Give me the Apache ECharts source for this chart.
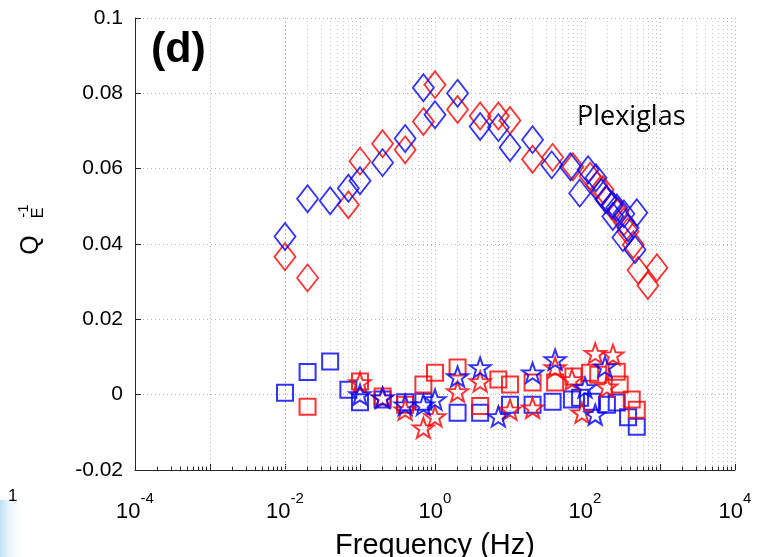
<!DOCTYPE html>
<html>
<head>
<meta charset="utf-8">
<script src="https://cdn.jsdelivr.net/npm/echarts@6/dist/echarts.min.js"></script>
<style>html,body{margin:0;padding:0;background:#fff;}#c{width:759px;height:557px;}</style>
</head>
<body>
<div id="c"></div>
<script>
// ---- data (frequency in Hz, attenuation Q_E^-1) ----
const redDiamondF = [0.01,0.02,0.07,0.1,0.2,0.4,0.7,1,2,4,7,10,20,37,69,117,144,174,196,230,275,330,375,440,510,690,910];
const redDiamondQ = [0.0366,0.031,0.0504,0.062,0.0666,0.065,0.0725,0.0823,0.0757,0.074,0.074,0.0728,0.0625,0.063,0.0605,0.058,0.0557,0.0544,0.0518,0.050,0.0486,0.0459,0.0433,0.0398,0.033,0.029,0.0337];

const blueDiamondF = [0.01,0.02,0.04,0.07,0.1,0.2,0.4,0.7,1,2,4,7,10,20,36,64,110,85,140,164,190,230,235,265,330,490,375,320,465];
const blueDiamondQ = [0.042,0.052,0.0515,0.0548,0.0568,0.0616,0.068,0.0815,0.0743,0.080,0.0712,0.0709,0.0656,0.0677,0.061,0.0605,0.0597,0.0535,0.0576,0.0536,0.0518,0.0504,0.0473,0.0496,0.048,0.0483,0.0443,0.0417,0.0385];

const blueSquareF = [0.01,0.02,0.04,0.07,0.1,0.2,0.4,0.7,2,4,10,20,37,67,86,124,196,265,375,490];
const blueSquareQ = [0.0005,0.006,0.0088,0.0013,-0.002,-0.0013,-0.002,-0.0019,-0.0048,-0.0048,-0.0027,-0.0027,-0.0019,-0.0013,-0.0008,-0.0019,-0.0027,-0.0021,-0.006,-0.0085];

const redSquareF = [0.02,0.1,0.2,0.4,0.7,1,2,4,7,10,20,40,70,117,150,265,290,420,490];
const redSquareQ = [-0.0032,0.0035,-0.0005,-0.0027,0.0027,0.0058,0.0072,-0.003,0.004,0.0027,0.0032,0.0032,0.0048,0.0058,0.0053,0.0061,0.0027,-0.0013,-0.004];

const blueStarF = [0.1,0.2,0.4,0.7,1,2,4,7,20,40,100,137,185];
const blueStarQ = [0,-0.0008,-0.0027,-0.0027,-0.0013,0.0048,0.0072,-0.0058,0.0058,0.0093,0.0019,-0.0053,0.0074];

const redStarF = [0.1,0.2,0.4,0.7,1,2,4,10,20,40,67,91,137,236,196];
const redStarQ = [0.0032,-0.0008,-0.004,-0.0088,-0.0058,0.0008,0.0035,-0.004,-0.0035,0.0072,0.004,-0.0048,0.011,0.0106,0.0021];

const xMin = 1e-4, xMax = 1e4;
const yMin = -0.02, yMax = 0.1, yStep = 0.02;

// ---- helpers ----
const zip = (f, q) => f.map((v, i) => [v, q[i]]);
const RED = '#ff0000', BLUE = '#0000ff';
const STAR = 'path://M0,-10 L2.35,-3.24 L9.51,-3.09 L3.8,1.24 L5.88,8.09 L0,4.2 L-5.88,8.09 L-3.8,1.24 L-9.51,-3.09 L-2.35,-3.24 Z';

function hollow(name, data, color, symbol, size, w) {
  return {
    name, type: 'scatter', data, symbol, symbolSize: size, symbolKeepAspect: symbol === STAR,
    z: 5,
    itemStyle: { color: 'rgba(0,0,0,0)', borderColor: color, borderWidth: w },
    emphasis: { disabled: true }
  };
}

// minor log positions (2..9 x 10^k)
const minorVals = [];
for (let e = -4; e < 4; e++) for (let k = 2; k <= 9; k++) minorVals.push(k * Math.pow(10, e));

const chart = echarts.init(document.getElementById('c'), null, { renderer: 'canvas' });
const FONT = 'Liberation Sans';

chart.setOption({
  animation: false,
  backgroundColor: '#fff',
  grid: { left: 135, right: 24, top: 18, bottom: 87, containLabel: false, outerBoundsMode: 'none' },
  xAxis: {
    type: 'log', logBase: 10, min: xMin, max: xMax, interval: 1,
    name: 'Frequency (Hz)', nameLocation: 'middle', nameGap: 61,
    nameTextStyle: { fontFamily: FONT, fontSize: 29, color: '#000', verticalAlign: 'top' },
    axisLine: { onZero: false, lineStyle: { color: '#262626', width: 1 } },
    axisTick: { inside: true, length: 6, lineStyle: { color: '#262626' } },
    splitLine: { show: true, lineStyle: { type: [1, 3], color: '#b5b5b5' } },
    axisLabel: {
      margin: 21,
      formatter: function (v) {
        const e = Math.round(Math.log10(v));
        if (e % 2 !== 0) return '';
        return '{b|10}{e|' + e + '}';
      },
      rich: {
        b: { fontFamily: FONT, fontSize: 22, color: '#000', lineHeight: 32, verticalAlign: 'bottom' },
        e: { fontFamily: FONT, fontSize: 15, color: '#000', lineHeight: 15, verticalAlign: 'top' }
      }
    }
  },
  yAxis: {
    type: 'value', min: yMin, max: yMax, interval: yStep,
    axisLine: { show: true, onZero: false, lineStyle: { color: '#262626', width: 1 } },
    axisTick: { show: true, inside: true, length: 6, lineStyle: { color: '#262626' } },
    splitLine: { show: true, lineStyle: { type: [1, 3], color: '#b5b5b5' } },
    axisLabel: {
      margin: 12, fontFamily: FONT, fontSize: 21, color: '#000',
      formatter: v => String(parseFloat(v.toFixed(2)))
    }
  },
  graphic: [
    { type: 'rect', left: 0, top: 500, z: -1, shape: { width: 24, height: 57 },
      style: { fill: new echarts.graphic.LinearGradient(0, 0, 1, 0, [
        { offset: 0, color: '#bfe0f4' }, { offset: 1, color: 'rgba(255,255,255,0)' }]) } },
    { type: 'text', left: 8, top: 488, style: { text: '1', font: '17px "Liberation Sans"', fill: '#000' } },
    { type: 'text', x: 151, y: 29, style: { text: '(d)', font: 'bold 43px "Liberation Sans"', fill: '#000' } },
    { type: 'text', x: 577, y: 104, style: { text: 'Plexiglas', font: '27px "Open Sans"', fill: '#000' } },
    { type: 'text', x: 31, y: 245, rotation: Math.PI / 2,
      style: { text: 'Q', font: '25px "Liberation Sans"', fill: '#000', align: 'center', verticalAlign: 'middle' } },
    { type: 'text', x: 24, y: 211, rotation: Math.PI / 2,
      style: { text: '-1', font: '15px "Liberation Sans"', fill: '#000', align: 'center', verticalAlign: 'middle' } },
    { type: 'text', x: 39, y: 213, rotation: Math.PI / 2,
      style: { text: 'E', font: '16px "Liberation Sans"', fill: '#000', align: 'center', verticalAlign: 'middle' } }
  ],
  series: [
    {
      name: 'grid', type: 'scatter', data: [], z: 1, silent: true,
      markLine: {
        silent: true, symbol: 'none', z: 1, animation: false,
        label: { show: false },
        lineStyle: { type: [1, 3], color: '#c4c4c4', width: 1 },
        emphasis: { disabled: true },
        data: minorVals.map(v => ({ xAxis: v }))
      }
    },
    {
      name: 'minorTicks', type: 'scatter', data: [], z: 2, silent: true,
      markLine: {
        silent: true, symbol: 'none', z: 2, animation: false,
        label: { show: false },
        lineStyle: { type: 'solid', color: '#262626', width: 1 },
        emphasis: { disabled: true },
        data: minorVals.map(v => [{ coord: [v, yMin] }, { coord: [v, yMin + 0.0009] }])
      }
    },
    hollow('Red diamonds', zip(redDiamondF, redDiamondQ), RED, 'diamond', [21, 27], 1.8),
    hollow('Blue diamonds', zip(blueDiamondF, blueDiamondQ), BLUE, 'diamond', [21, 27], 1.8),
    hollow('Blue squares', zip(blueSquareF, blueSquareQ), BLUE, 'rect', [16, 16], 2),
    hollow('Red squares', zip(redSquareF, redSquareQ), RED, 'rect', [16, 16], 2),
    hollow('Red stars', zip(redStarF, redStarQ), RED, STAR, [21, 21], 2),
    hollow('Blue stars', zip(blueStarF, blueStarQ), BLUE, STAR, [21, 21], 2)
  ]
});
</script>
</body>
</html>
